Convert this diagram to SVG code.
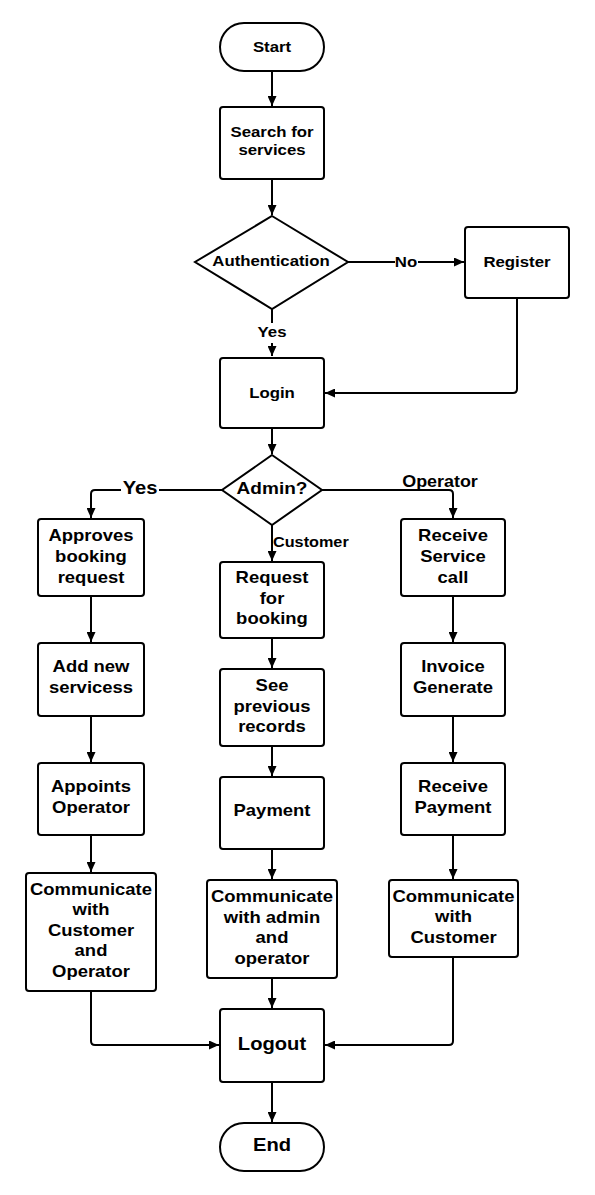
<svg xmlns="http://www.w3.org/2000/svg" width="595" height="1195" viewBox="0 0 595 1195">
<style>
.box{fill:#fff;stroke:#000;stroke-width:2}
.t{font-family:"Liberation Sans",Arial,sans-serif;font-weight:bold;fill:#000;text-anchor:middle}
.s15{font-size:15px}
.s16{font-size:16.5px}
.s17{font-size:17px}
.s18{font-size:18px}
.lbl{font-family:"Liberation Sans",Arial,sans-serif;font-weight:bold;fill:#000}
.c{fill:none;stroke:#000;stroke-width:2}
</style>
<defs>
<marker id="ah" markerUnits="userSpaceOnUse" markerWidth="11" markerHeight="9" refX="10" refY="4.5" orient="auto">
<path d="M0,0 L10,4.5 L0,9 z" fill="#000"/>
</marker>
</defs>
<rect width="595" height="1195" fill="#fff"/>

<g id="connectors">
<path class="c" d="M272 71 V106" marker-end="url(#ah)"/>
<path class="c" d="M272 179 V215" marker-end="url(#ah)"/>
<path class="c" d="M348 262 H395 M418 262 H464" marker-end="url(#ah)"/>
<path class="c" d="M272 309 V323 M272 343 V356" marker-end="url(#ah)"/>
<path class="c" d="M517 298 V389 Q517 393 513 393 H325" marker-end="url(#ah)"/>
<path class="c" d="M272 428 V454" marker-end="url(#ah)"/>
<path class="c" d="M222 490 H159 M121 490 H95 Q91 490 91 494 V518" marker-end="url(#ah)"/>
<path class="c" d="M322 490 H449 Q453 490 453 494 V518" marker-end="url(#ah)"/>
<path class="c" d="M272 525 V561" marker-end="url(#ah)"/>
<path class="c" d="M91 596 V642" marker-end="url(#ah)"/>
<path class="c" d="M91 716 V762" marker-end="url(#ah)"/>
<path class="c" d="M91 835 V872" marker-end="url(#ah)"/>
<path class="c" d="M272 638 V668" marker-end="url(#ah)"/>
<path class="c" d="M272 746 V776" marker-end="url(#ah)"/>
<path class="c" d="M272 849 V879" marker-end="url(#ah)"/>
<path class="c" d="M272 978 V1008" marker-end="url(#ah)"/>
<path class="c" d="M453 596 V642" marker-end="url(#ah)"/>
<path class="c" d="M453 716 V762" marker-end="url(#ah)"/>
<path class="c" d="M453 835 V879" marker-end="url(#ah)"/>
<path class="c" d="M91 991 V1041 Q91 1045 95 1045 H219" marker-end="url(#ah)"/>
<path class="c" d="M453 957 V1041 Q453 1045 449 1045 H325" marker-end="url(#ah)"/>
<path class="c" d="M272 1082 V1122" marker-end="url(#ah)"/>
<text class="lbl s15" text-anchor="middle" transform="matrix(1.12 0 0 1 406 0)" x="0" y="267">No</text>
<text class="lbl s15" text-anchor="middle" transform="matrix(1.12 0 0 1 272 0)" x="0" y="337">Yes</text>
<text class="lbl s18" text-anchor="middle" transform="matrix(1.12 0 0 1 140 0)" x="0" y="494">Yes</text>
<text class="lbl" style="font-size:16px" text-anchor="middle" transform="matrix(1.12 0 0 1 440 0)" x="0" y="487">Operator</text>
<text class="lbl" style="font-size:14.5px" transform="matrix(1.12 0 0 1 273 0)" x="0" y="547">Customer</text>
</g>

<g id="n-start">
<rect class="box" x="220" y="23" width="104" height="48" rx="24"/>
<text class="t s15" transform="matrix(1.12 0 0 1 272 0)" x="0" y="52">Start</text>
</g>
<g id="n-search">
<rect class="box" x="220" y="107" width="104" height="72" rx="3"/>
<text class="t s15" transform="matrix(1.12 0 0 1 272 0)"><tspan x="0" y="137">Search for</tspan><tspan x="0" y="155">services</tspan></text>
</g>
<g id="n-auth">
<polygon class="box" points="272,216 348,262 272,309 195,262"/>
<text class="t s15" transform="matrix(1.12 0 0 1 271 0)" x="0" y="266">Authentication</text>
</g>
<g id="n-register">
<rect class="box" x="465" y="227" width="104" height="71" rx="3"/>
<text class="t s15" transform="matrix(1.12 0 0 1 517 0)" x="0" y="267">Register</text>
</g>
<g id="n-login">
<rect class="box" x="220" y="358" width="104" height="70" rx="3"/>
<text class="t s15" transform="matrix(1.12 0 0 1 272 0)" x="0" y="398">Login</text>
</g>
<g id="n-admin">
<polygon class="box" points="272,455 322,490 272,525 222,490"/>
<text class="t s17" transform="matrix(1.12 0 0 1 272 0)" x="0" y="494">Admin?</text>
</g>

<g id="n-approves">
<rect class="box" x="38" y="519" width="106" height="77" rx="3"/>
<text class="t s16" transform="matrix(1.12 0 0 1 91 0)"><tspan x="0" y="541">Approves</tspan><tspan x="0" y="562">booking</tspan><tspan x="0" y="583">request</tspan></text>
</g>
<g id="n-addnew">
<rect class="box" x="38" y="643" width="106" height="73" rx="3"/>
<text class="t s16" transform="matrix(1.12 0 0 1 91 0)"><tspan x="0" y="672">Add new</tspan><tspan x="0" y="693">servicess</tspan></text>
</g>
<g id="n-appoints">
<rect class="box" x="38" y="763" width="106" height="72" rx="3"/>
<text class="t s16" transform="matrix(1.12 0 0 1 91 0)"><tspan x="0" y="792">Appoints</tspan><tspan x="0" y="813">Operator</tspan></text>
</g>
<g id="n-comm-left">
<rect class="box" x="26" y="873" width="130" height="118" rx="3"/>
<text class="t s16" transform="matrix(1.12 0 0 1 91 0)"><tspan x="0" y="895">Communicate</tspan><tspan x="0" y="915.5">with</tspan><tspan x="0" y="936">Customer</tspan><tspan x="0" y="956.5">and</tspan><tspan x="0" y="977">Operator</tspan></text>
</g>

<g id="n-request">
<rect class="box" x="220" y="562" width="104" height="76" rx="3"/>
<text class="t s16" transform="matrix(1.12 0 0 1 272 0)"><tspan x="0" y="583">Request</tspan><tspan x="0" y="603.7">for</tspan><tspan x="0" y="624.4">booking</tspan></text>
</g>
<g id="n-previous">
<rect class="box" x="220" y="669" width="104" height="77" rx="3"/>
<text class="t s16" transform="matrix(1.12 0 0 1 272 0)"><tspan x="0" y="691">See</tspan><tspan x="0" y="711.7">previous</tspan><tspan x="0" y="732.4">records</tspan></text>
</g>
<g id="n-payment">
<rect class="box" x="220" y="777" width="104" height="72" rx="3"/>
<text class="t s16" transform="matrix(1.12 0 0 1 272 0)" x="0" y="816">Payment</text>
</g>
<g id="n-comm-mid">
<rect class="box" x="207" y="880" width="130" height="98" rx="3"/>
<text class="t s16" transform="matrix(1.12 0 0 1 272 0)"><tspan x="0" y="902">Communicate</tspan><tspan x="0" y="922.6">with admin</tspan><tspan x="0" y="943.3">and</tspan><tspan x="0" y="964">operator</tspan></text>
</g>

<g id="n-receive-call">
<rect class="box" x="401" y="519" width="104" height="77" rx="3"/>
<text class="t s16" transform="matrix(1.12 0 0 1 453 0)"><tspan x="0" y="541">Receive</tspan><tspan x="0" y="562">Service</tspan><tspan x="0" y="583">call</tspan></text>
</g>
<g id="n-invoice">
<rect class="box" x="401" y="643" width="104" height="73" rx="3"/>
<text class="t s16" transform="matrix(1.12 0 0 1 453 0)"><tspan x="0" y="672">Invoice</tspan><tspan x="0" y="693">Generate</tspan></text>
</g>
<g id="n-receive-payment">
<rect class="box" x="401" y="763" width="104" height="72" rx="3"/>
<text class="t s16" transform="matrix(1.12 0 0 1 453 0)"><tspan x="0" y="792">Receive</tspan><tspan x="0" y="813">Payment</tspan></text>
</g>
<g id="n-comm-right">
<rect class="box" x="389" y="880" width="129" height="77" rx="3"/>
<text class="t s16" transform="matrix(1.12 0 0 1 453.5 0)"><tspan x="0" y="902">Communicate</tspan><tspan x="0" y="922.5">with</tspan><tspan x="0" y="943">Customer</tspan></text>
</g>

<g id="n-logout">
<rect class="box" x="220" y="1009" width="104" height="73" rx="3"/>
<text class="t s18" transform="matrix(1.12 0 0 1 272 0)" x="0" y="1050">Logout</text>
</g>
<g id="n-end">
<rect class="box" x="220" y="1123" width="104" height="48" rx="24"/>
<text class="t s18" transform="matrix(1.12 0 0 1 272 0)" x="0" y="1151">End</text>
</g>
</svg>
